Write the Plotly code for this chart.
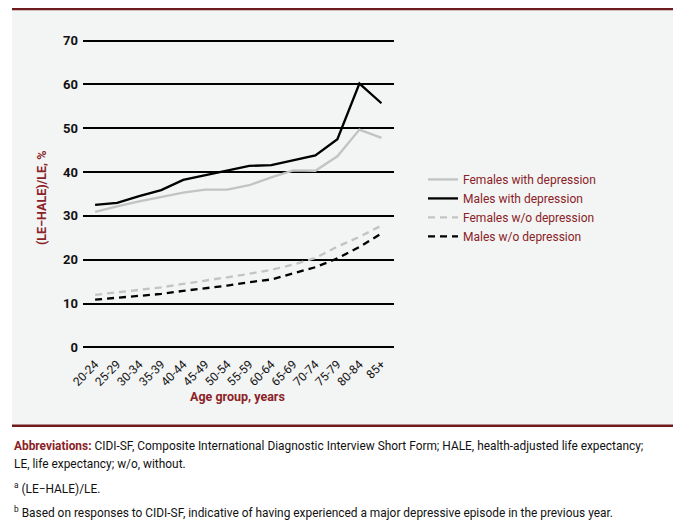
import plotly.graph_objects as go

age_groups = ["20-24", "25-29", "30-34", "35-39", "40-44", "45-49", "50-54",
              "55-59", "60-64", "65-69", "70-74", "75-79", "80-84", "85+"]
females_with_dep = [30.9, 32.2, 33.3, 34.3, 35.3, 36.0, 36.0, 37.0, 38.8, 40.4, 40.3, 43.6, 49.7, 47.8]
males_with_dep = [32.5, 33.0, 34.5, 35.9, 38.2, 39.3, 40.4, 41.4, 41.6, 42.7, 43.8, 47.5, 60.2, 55.7]
females_wo_dep = [12.0, 12.6, 13.1, 13.7, 14.5, 15.2, 16.0, 16.8, 17.7, 18.9, 20.4, 23.0, 25.2, 27.8]
males_wo_dep = [10.9, 11.3, 11.7, 12.2, 12.9, 13.5, 14.1, 14.9, 15.5, 16.9, 18.3, 20.3, 22.9, 26.0]
y_ticks = [0, 10, 20, 30, 40, 50, 60, 70]

# page body has an 8px margin: figure is 674x522 and sits at (8,8) on the 682x530 page
OFF = 8
W, H = 682 - OFF, 530 - OFF
PX_PER_UNIT = (347 - 41) / 70.0
PAD_U = 1.5
L, R = 83, 394
T = 41 - PAD_U * PX_PER_UNIT
B = 347 + PAD_U * PX_PER_UNIT
FONT = "Roboto, Liberation Sans, sans-serif"
RED = "#8a2226"
DARKRED = "#6e1b1b"
PANEL = "#f3f4f4"


def xp(px):
    return (px - L) / (R - L)


def yp(py):
    return (B - py) / (B - T)


fig = go.Figure()
series = [
    ("Females with depression", females_with_dep, "#c3c3c3", "solid"),
    ("Males with depression", males_with_dep, "#000000", "solid"),
    ("Females w/o depression", females_wo_dep, "#c3c3c3", "7px,5px"),
    ("Males w/o depression", males_wo_dep, "#000000", "7px,5px"),
]
for name, vals, col, dash in series:
    fig.add_trace(go.Scatter(x=age_groups, y=vals, mode="lines", name=name,
                             line=dict(color=col, width=2.3, dash=dash)))

shapes = [
    dict(type="rect", xref="paper", yref="paper", x0=xp(12), x1=xp(673), y0=yp(424), y1=yp(10),
         fillcolor=PANEL, line=dict(width=0), layer="below"),
    dict(type="line", xref="paper", yref="paper", x0=xp(12), x1=xp(673), y0=yp(9.5), y1=yp(9.5),
         line=dict(color=DARKRED, width=2.5), layer="above"),
    dict(type="line", xref="paper", yref="paper", x0=xp(12), x1=xp(673), y0=yp(425), y1=yp(425),
         line=dict(color=DARKRED, width=2.5), layer="above"),
]

annotations = [
    dict(text="<b>(LE−HALE)/LE, %</b>", x=xp(41), y=yp(198), xref="paper", yref="paper",
         textangle=-90, showarrow=False, font=dict(family=FONT, size=12.5, color=RED),
         xanchor="center", yanchor="middle"),
    dict(text="<b>Age group, years</b>", x=xp(237), y=yp(396), xref="paper", yref="paper",
         showarrow=False, font=dict(family=FONT, size=12.5, color=RED),
         xanchor="center", yanchor="middle"),
]
foot = [
    ("<span style='color:%s'><b>Abbreviations:</b></span> CIDI-SF, Composite International Diagnostic Interview Short Form; HALE, health-adjusted life expectancy;" % RED, 445),
    ("LE, life expectancy; w/o, without.", 463),
    ("<sup>a</sup> (LE−HALE)/LE.", 487),
    ("<sup>b</sup> Based on responses to CIDI-SF, indicative of having experienced a major depressive episode in the previous year.", 511),
]
for txt, py in foot:
    annotations.append(dict(text=txt, x=xp(12), y=yp(py), xref="paper", yref="paper",
                            showarrow=False, xanchor="left", yanchor="middle", align="left",
                            font=dict(family=FONT, size=11.9, color="#111111")))

fig.update_layout(
    width=W, height=H,
    margin=dict(l=L - OFF, r=682 - R, t=T - OFF, b=530 - B, pad=0),
    paper_bgcolor="white",
    plot_bgcolor="rgba(0,0,0,0)",
    font=dict(family=FONT, color="#111111"),
    shapes=shapes,
    annotations=annotations,
    showlegend=True,
    legend=dict(x=xp(423), y=yp(165), xanchor="left", yanchor="top",
                bgcolor="rgba(0,0,0,0)", font=dict(family=FONT, size=12, color=RED),
                itemwidth=30, tracegroupgap=0),
    xaxis=dict(range=[-0.55, 13.57], showgrid=False, showline=False, zeroline=False,
               tickangle=-45, ticks="", tickfont=dict(family=FONT, size=12, color="#111111")),
    yaxis=dict(range=[-PAD_U, 70 + PAD_U], tickvals=y_ticks, showgrid=True, gridcolor="#000000",
               gridwidth=1.5, zeroline=False, showline=False, ticks="", ticklabelstandoff=4,
               tickfont=dict(family=FONT, size=13, color="#111111", weight="bold")),
)

fig.write_html("out.html")
